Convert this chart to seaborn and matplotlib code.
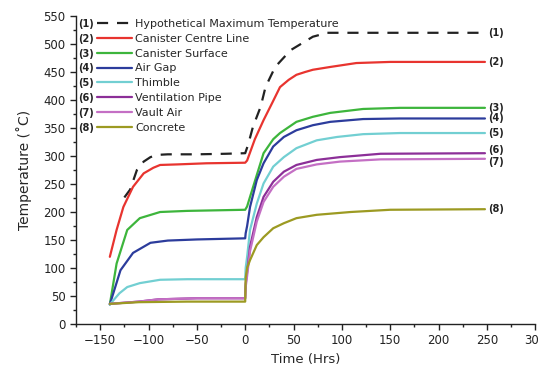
import matplotlib
matplotlib.use("Agg")
import matplotlib.pyplot as plt
from matplotlib.ticker import MultipleLocator
import seaborn as sns

sns.set_style("ticks")
plt.rcParams['font.family'] = ['DejaVu Sans']

# series names (legend) and colours
names = ["Hypothetical Maximum Temperature", "Canister Centre Line", "Canister Surface",
         "Air Gap", "Thimble", "Ventilation Pipe", "Vault Air", "Concrete"]
colors = ["#222222", "#e8342f", "#3db53c", "#2c3c9c", "#72cfd2",
          "#8c2f98", "#c46fc4", "#9c9a22"]

# time (hrs) and temperature (C) per series
max_t = [-125, -119, -112, -105, -98, -91, -80, -50, -20, 0, 3, 8, 16, 21, 31, 47, 70, 85, 248]
max_T = [226, 240, 275, 290, 298, 302, 303, 303, 304, 305, 320, 352, 388, 423, 459, 489, 513, 520, 520]

centre_t = [-140, -133, -126, -116, -105, -95, -88, -70, -40, 0, 2, 10, 19, 28, 36, 45, 53, 62, 70, 88, 115, 150, 248]
centre_T = [120, 168, 209, 245, 269, 279, 284, 285, 287, 288, 292, 330, 364, 395, 423, 436, 445, 450, 454, 459, 466, 468, 468]

surface_t = [-140, -133, -122, -109, -88, -60, -30, 0, 2, 5, 12, 19, 29, 36, 53, 70, 88, 122, 160, 248]
surface_T = [35, 108, 168, 189, 200, 202, 203, 204, 210, 227, 266, 305, 330, 341, 361, 370, 377, 384, 386, 386]

airgap_t = [-140, -129, -116, -98, -80, -50, 0, 0.5, 2, 5, 12, 19, 29, 40, 53, 70, 88, 122, 160, 248]
airgap_T = [35, 96, 127, 145, 149, 151, 153, 162, 175, 209, 257, 287, 317, 334, 346, 355, 361, 366, 367, 367]

thimble_t = [-140, -130, -122, -109, -88, -60, 0, 0.5, 2, 5, 12, 19, 29, 40, 53, 74, 95, 122, 160, 248]
thimble_T = [35, 55, 66, 73, 79, 80, 80, 100, 120, 168, 215, 251, 281, 298, 314, 328, 334, 339, 341, 341]

vent_t = [-140, -110, -90, -50, 0, 0.5, 2, 5, 12, 19, 29, 40, 53, 74, 98, 140, 248]
vent_T = [36, 40, 44, 46, 46, 72, 93, 138, 191, 227, 254, 272, 284, 293, 298, 304, 305]

vault_t = [-140, -110, -90, -50, 0, 0.5, 2, 5, 12, 19, 29, 40, 53, 74, 98, 140, 248]
vault_T = [36, 40, 44, 46, 46, 66, 86, 130, 183, 218, 245, 263, 277, 285, 290, 294, 295]

concrete_t = [-140, -110, -60, 0, 0.5, 2, 5, 12, 19, 29, 40, 53, 74, 109, 150, 248]
concrete_T = [36, 39, 40, 40, 82, 100, 114, 141, 155, 171, 180, 189, 195, 200, 204, 205]

times = [max_t, centre_t, surface_t, airgap_t, thimble_t, vent_t, vault_t, concrete_t]
temps = [max_T, centre_T, surface_T, airgap_T, thimble_T, vent_T, vault_T, concrete_T]

fig = plt.figure(figsize=(5.39, 3.72), dpi=100)
ax = fig.add_axes([0.141, 0.129, 0.852, 0.828])

# small vertical nudges so (6) and (7) don't collide
nudge = {5: 2.5, 6: -2.5}

for i, (t, T) in enumerate(zip(times, temps)):
    ls = (0, (5, 4)) if i == 0 else "-"
    sns.lineplot(x=t, y=T, ax=ax, color=colors[i], lw=1.6, ls=ls,
                 label=names[i], sort=False, estimator=None)
    # end-of-line number labels
    ax.annotate("({})".format(i + 1), xy=(t[-1], T[-1]), xytext=(2, nudge.get(i, 0)),
                textcoords="offset points", ha="left", va="center",
                fontsize=7, fontweight="bold", color="#222222")

ax.set_xlim(-175, 300)
ax.set_ylim(0, 550)
ax.xaxis.set_major_locator(MultipleLocator(50))
ax.xaxis.set_minor_locator(MultipleLocator(25))
ax.yaxis.set_major_locator(MultipleLocator(50))
ax.yaxis.set_minor_locator(MultipleLocator(25))
ax.tick_params(which="major", length=4, width=1, labelsize=8.5, direction="out", colors="#222222")
ax.tick_params(which="minor", length=2.5, width=1, direction="out", colors="#222222")
sns.despine(ax=ax)
for s in ["left", "bottom"]:
    ax.spines[s].set_color("#222222")
    ax.spines[s].set_linewidth(1)

ax.set_xlabel("Time (Hrs)", fontsize=9.5, labelpad=4)
ax.set_ylabel("Temperature (˚C)", fontsize=10, labelpad=8)

fs = 8
hl = 3.15
htp = 0.3
leg = ax.legend(loc="upper left", bbox_to_anchor=(0.046, 0.99), frameon=False,
                fontsize=fs, handlelength=hl, handletextpad=htp, labelspacing=0.43,
                borderpad=0, borderaxespad=0)
fig.canvas.draw()
for i, txt in enumerate(leg.get_texts()):
    ax.annotate("({})".format(i + 1), xy=(0, 0.5), xycoords=txt,
                xytext=(-(hl + htp) * fs - 2.5, 0), textcoords="offset points",
                ha="right", va="center", fontsize=7, fontweight="bold",
                color="#222222", zorder=6)

fig.savefig("out.png", dpi=100)
